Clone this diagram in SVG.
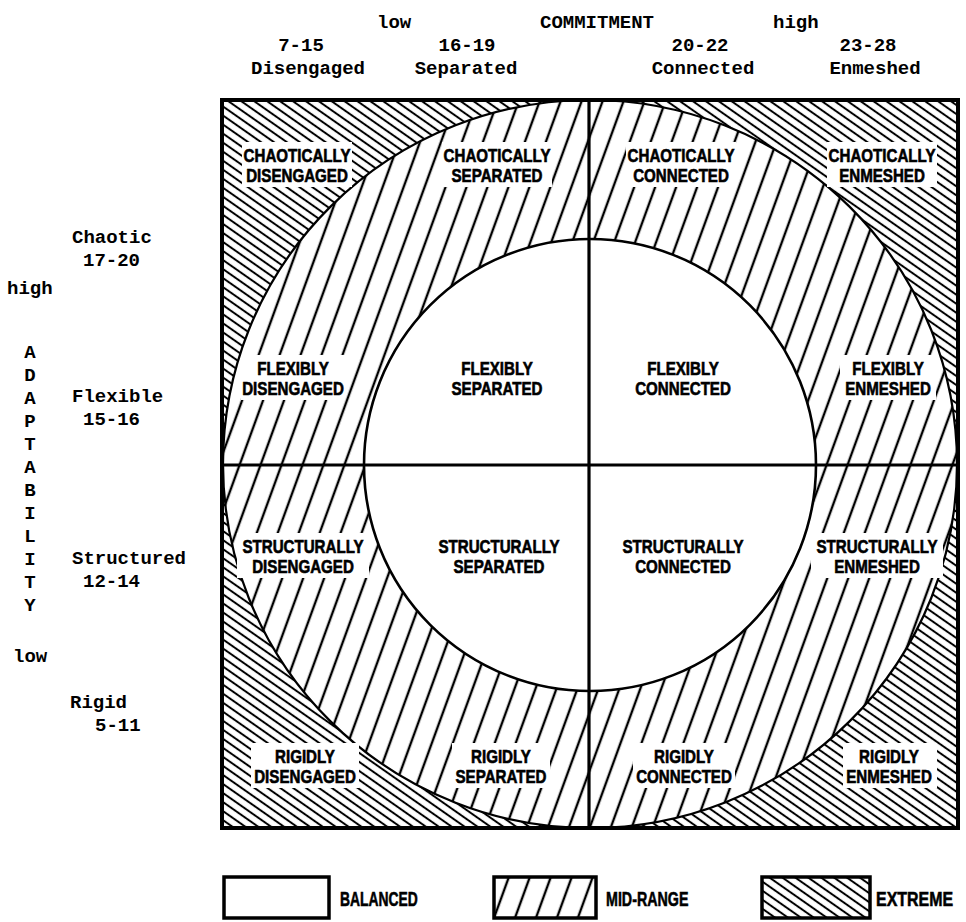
<svg xmlns="http://www.w3.org/2000/svg" width="966" height="922" viewBox="0 0 966 922">
<style>
.lbl{font-family:"Liberation Sans","DejaVu Sans",sans-serif;font-weight:bold;font-size:17.8px;fill:#000;stroke:#000;stroke-width:0.6;text-anchor:middle}
.mono{font-family:"Liberation Mono","DejaVu Sans Mono",monospace;font-weight:bold;font-size:19px;fill:#000}
.ko{fill:#fff;stroke:none}
.div{stroke:#000;stroke-width:3.2;fill:none}
.leg{font-family:"Liberation Sans","DejaVu Sans",sans-serif;font-weight:bold;font-size:21px;fill:#000;stroke:#000;stroke-width:0.6}
</style>
<defs>
<pattern id="mid" patternUnits="userSpaceOnUse" width="19.7" height="20" patternTransform="rotate(20)">
<rect width="19.7" height="20" fill="#fff"/>
<line x1="9.85" y1="-1" x2="9.85" y2="21" stroke="#000" stroke-width="2.4"/>
</pattern>
<pattern id="ext" patternUnits="userSpaceOnUse" width="20" height="7.4" patternTransform="rotate(35)">
<rect width="20" height="7.4" fill="#fff"/>
<line x1="-1" y1="3.7" x2="21" y2="3.7" stroke="#000" stroke-width="2"/>
</pattern>
</defs>
<rect width="966" height="922" fill="#fff"/>

<g id="axis-commitment">
<text class="mono" x="377" y="28">low</text>
<text class="mono" x="540" y="28">COMMITMENT</text>
<text class="mono" x="773" y="28">high</text>
<text class="mono" x="301" y="51" text-anchor="middle">7-15</text>
<text class="mono" x="467" y="51" text-anchor="middle">16-19</text>
<text class="mono" x="700" y="51" text-anchor="middle">20-22</text>
<text class="mono" x="868" y="51" text-anchor="middle">23-28</text>
<text class="mono" x="308" y="74" text-anchor="middle">Disengaged</text>
<text class="mono" x="466" y="74" text-anchor="middle">Separated</text>
<text class="mono" x="703" y="74" text-anchor="middle">Connected</text>
<text class="mono" x="875" y="74" text-anchor="middle">Enmeshed</text>
</g>

<g id="axis-adaptability">
<text class="mono" x="72" y="243">Chaotic</text>
<text class="mono" x="83" y="266">17-20</text>
<text class="mono" x="7" y="294">high</text>
<g text-anchor="middle">
<text class="mono" x="30" y="358">A</text>
<text class="mono" x="30" y="381">D</text>
<text class="mono" x="30" y="404">A</text>
<text class="mono" x="30" y="427">P</text>
<text class="mono" x="30" y="450">T</text>
<text class="mono" x="30" y="473">A</text>
<text class="mono" x="30" y="496">B</text>
<text class="mono" x="30" y="519">I</text>
<text class="mono" x="30" y="542">L</text>
<text class="mono" x="30" y="565">I</text>
<text class="mono" x="30" y="588">T</text>
<text class="mono" x="30" y="611">Y</text>
</g>
<text class="mono" x="72" y="402">Flexible</text>
<text class="mono" x="83" y="425">15-16</text>
<text class="mono" x="72" y="564">Structured</text>
<text class="mono" x="83" y="587">12-14</text>
<text class="mono" x="13" y="662">low</text>
<text class="mono" x="70" y="708">Rigid</text>
<text class="mono" x="95" y="731">5-11</text>
</g>

<g id="regions">
<rect x="222" y="100" width="736" height="728" fill="url(#ext)"/>
<ellipse cx="590" cy="464" rx="367" ry="364" fill="url(#mid)" stroke="#000" stroke-width="2.2"/>
<circle cx="590" cy="465" r="226" fill="#fff" stroke="#000" stroke-width="2.6"/>
</g>

<g id="cell-chaotically-disengaged">
<rect class="ko" x="242" y="142" width="110" height="45"/>
<g transform="translate(297 0) scale(0.85 1)"><text class="lbl" y="162">CHAOTICALLY</text><text class="lbl" y="182">DISENGAGED</text></g>
</g>
<g id="cell-chaotically-separated">
<rect class="ko" x="442" y="142" width="110" height="45"/>
<g transform="translate(497 0) scale(0.85 1)"><text class="lbl" y="162">CHAOTICALLY</text><text class="lbl" y="182">SEPARATED</text></g>
</g>
<g id="cell-chaotically-connected">
<rect class="ko" x="626" y="142" width="110" height="45"/>
<g transform="translate(681 0) scale(0.85 1)"><text class="lbl" y="162">CHAOTICALLY</text><text class="lbl" y="182">CONNECTED</text></g>
</g>
<g id="cell-chaotically-enmeshed">
<rect class="ko" x="827" y="142" width="110" height="45"/>
<g transform="translate(882 0) scale(0.85 1)"><text class="lbl" y="162">CHAOTICALLY</text><text class="lbl" y="182">ENMESHED</text></g>
</g>

<g id="cell-flexibly-disengaged">
<rect class="ko" x="241" y="355" width="104" height="45"/>
<g transform="translate(293 0) scale(0.85 1)"><text class="lbl" y="375">FLEXIBLY</text><text class="lbl" y="395">DISENGAGED</text></g>
</g>
<g id="cell-flexibly-separated">
<g transform="translate(497 0) scale(0.85 1)"><text class="lbl" y="375">FLEXIBLY</text><text class="lbl" y="395">SEPARATED</text></g>
</g>
<g id="cell-flexibly-connected">
<g transform="translate(683 0) scale(0.85 1)"><text class="lbl" y="375">FLEXIBLY</text><text class="lbl" y="395">CONNECTED</text></g>
</g>
<g id="cell-flexibly-enmeshed">
<rect class="ko" x="840" y="355" width="96" height="45"/>
<g transform="translate(888 0) scale(0.85 1)"><text class="lbl" y="375">FLEXIBLY</text><text class="lbl" y="395">ENMESHED</text></g>
</g>

<g id="cell-structurally-disengaged">
<rect class="ko" x="237" y="533" width="132" height="45"/>
<g transform="translate(303 0) scale(0.85 1)"><text class="lbl" y="553">STRUCTURALLY</text><text class="lbl" y="573">DISENGAGED</text></g>
</g>
<g id="cell-structurally-separated">
<g transform="translate(499 0) scale(0.85 1)"><text class="lbl" y="553">STRUCTURALLY</text><text class="lbl" y="573">SEPARATED</text></g>
</g>
<g id="cell-structurally-connected">
<g transform="translate(683 0) scale(0.85 1)"><text class="lbl" y="553">STRUCTURALLY</text><text class="lbl" y="573">CONNECTED</text></g>
</g>
<g id="cell-structurally-enmeshed">
<rect class="ko" x="811" y="533" width="132" height="45"/>
<g transform="translate(877 0) scale(0.85 1)"><text class="lbl" y="553">STRUCTURALLY</text><text class="lbl" y="573">ENMESHED</text></g>
</g>

<g id="cell-rigidly-disengaged">
<rect class="ko" x="251" y="743" width="108" height="45"/>
<g transform="translate(305 0) scale(0.85 1)"><text class="lbl" y="763">RIGIDLY</text><text class="lbl" y="783">DISENGAGED</text></g>
</g>
<g id="cell-rigidly-separated">
<rect class="ko" x="452" y="743" width="98" height="45"/>
<g transform="translate(501 0) scale(0.85 1)"><text class="lbl" y="763">RIGIDLY</text><text class="lbl" y="783">SEPARATED</text></g>
</g>
<g id="cell-rigidly-connected">
<rect class="ko" x="633" y="743" width="102" height="45"/>
<g transform="translate(684 0) scale(0.85 1)"><text class="lbl" y="763">RIGIDLY</text><text class="lbl" y="783">CONNECTED</text></g>
</g>
<g id="cell-rigidly-enmeshed">
<rect class="ko" x="843" y="743" width="94" height="45"/>
<g transform="translate(889 0) scale(0.85 1)"><text class="lbl" y="763">RIGIDLY</text><text class="lbl" y="783">ENMESHED</text></g>
</g>

<g id="connectors">
<line class="div" x1="589" y1="100" x2="589" y2="828"/>
<line class="div" x1="222" y1="465" x2="958" y2="465"/>
<rect x="222" y="100" width="736" height="728" fill="none" stroke="#000" stroke-width="4"/>
</g>

<g id="legend-balanced">
<rect x="224" y="877" width="105" height="41" fill="#fff" stroke="#000" stroke-width="3.5"/>
<g transform="translate(340 0) scale(0.66 1)"><text class="leg" y="906">BALANCED</text></g>
</g>
<g id="legend-mid-range">
<rect x="494" y="877" width="102" height="41" fill="url(#mid)" stroke="#000" stroke-width="3.5"/>
<g transform="translate(606 0) scale(0.68 1)"><text class="leg" y="906">MID-RANGE</text></g>
</g>
<g id="legend-extreme">
<rect x="762" y="877" width="108" height="41" fill="url(#ext)" stroke="#000" stroke-width="3.5"/>
<g transform="translate(876 0) scale(0.76 1)"><text class="leg" y="906">EXTREME</text></g>
</g>
</svg>
